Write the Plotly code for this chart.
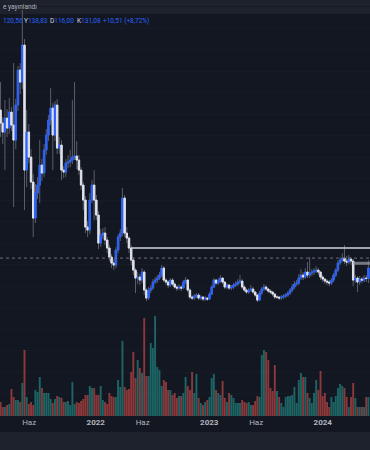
import pandas as pd
import plotly.graph_objects as go

# ---------------- data ----------------
week_start = "2021-03-01"          # first weekly bar
first_open = 289.0
last_open = 120.56

closes = [
    276, 267, 281, 271, 287, 274, 259, 294, 329, 317,
    354, 229, 267, 242, 217, 181, 206, 214, 234, 226,
    249, 264, 279, 291, 264, 294, 251, 254, 229, 227,
    236, 237, 239, 242, 243, 239, 229, 214, 199, 172,
    169, 199, 214, 199, 184, 156, 164, 166, 159, 151,
    142, 136, 134, 149, 162, 166, 201, 166, 161, 151,
    139, 129, 121, 122, 119, 127, 109, 101, 109, 111,
    117, 119, 121, 124, 131, 119, 117, 114, 119, 115,
    112, 111, 112, 111, 117, 119, 109, 102, 101, 103,
    104, 101, 102, 100, 101, 100, 105, 112, 119, 116,
    118, 121, 117, 112, 114, 111, 112, 114, 115, 117,
    118, 112, 109, 107, 109, 110, 107, 104, 99, 106,
    110, 112, 110, 108, 107, 105, 102, 102, 101, 102,
    103, 104, 106, 109, 112, 115, 116, 121, 124, 122,
    127, 124, 126, 127, 128, 129, 127, 122, 120, 118,
    117, 116, 119, 124, 129, 136, 139, 141, 138, 137,
    140, 138, 119, 121, 117, 120, 119, 121, 120.57, 131.08,
]

highs = [
    317, 282, 299, 290, 301, 292, 336, 300, 333, 336,
    389, 360, 289, 275, 250, 225, 215, 222, 259, 240,
    255, 270, 284, 311, 296, 298, 300, 262, 259, 233,
    240, 244, 249, 299, 317, 258, 244, 232, 217, 203,
    178, 206, 219, 229, 204, 188, 170, 171, 172, 162,
    154, 145, 140, 152, 165, 170, 211, 204, 172, 163,
    154, 142, 131, 127, 125, 131, 129, 111, 112, 114,
    120, 122, 124, 127, 134, 133, 121, 119, 121, 121,
    117, 114, 115, 114, 119, 122, 120, 111, 104, 105,
    106, 106, 104, 103, 103, 102, 107, 114, 121, 120,
    121, 124, 122, 118, 116, 115, 114, 116, 118, 120,
    124, 120, 114, 111, 111, 114, 112, 108, 105, 108,
    112, 115, 114, 111, 110, 108, 106, 104, 103, 104,
    105, 106, 108, 111, 115, 118, 119, 125, 130, 127,
    131, 137, 142, 130, 131, 133, 131, 128, 124, 121,
    120, 119, 121, 126, 131, 139, 142, 146, 154, 143,
    144, 142, 140, 124, 123, 123, 122, 124, 124, 138.83,
]

lows = [
    262, 255, 229, 262, 265, 268, 192, 250, 288, 305,
    310, 189, 212, 236, 210, 162, 176, 200, 196, 218,
    222, 244, 258, 274, 229, 258, 245, 245, 219, 221,
    222, 231, 232, 235, 239, 230, 224, 209, 189, 166,
    162, 165, 196, 179, 179, 150, 152, 160, 154, 146,
    138, 131, 129, 131, 146, 158, 163, 162, 156, 146,
    134, 124, 106, 115, 114, 116, 104, 98, 99, 106,
    109, 115, 116, 119, 122, 117, 114, 111, 112, 113,
    110, 108, 109, 108, 110, 115, 107, 100, 99, 99,
    101, 99, 99, 98, 98, 98, 99, 104, 111, 114,
    114, 116, 115, 110, 110, 109, 109, 110, 112, 113,
    115, 110, 107, 105, 105, 107, 105, 102, 97, 98,
    104, 108, 108, 106, 105, 103, 100, 100, 99, 99,
    100, 101, 102, 104, 107, 110, 113, 114, 119, 119,
    120, 121, 121, 123, 124, 126, 124, 119, 117, 115,
    114, 113, 114, 117, 122, 127, 134, 137, 135, 133,
    135, 134, 113, 116, 107, 114, 116, 117, 117, 116.00,
]

volumes = [  # millions of shares
    14, 9, 9, 11, 12, 27, 19, 16, 16, 14,
    33, 66, 19, 12, 14, 11, 26, 24, 39, 28,
    23, 23, 23, 17, 13, 17, 20, 19, 18, 14,
    14, 15, 11, 34, 12, 14, 13, 15, 17, 21,
    21, 30, 28, 28, 21, 21, 30, 16, 14, 12,
    23, 20, 19, 19, 36, 29, 75, 29, 26, 27,
    44, 64, 38, 56, 48, 43, 98, 40, 40, 73,
    68, 100, 49, 46, 30, 36, 34, 26, 26, 21,
    23, 18, 20, 20, 23, 39, 30, 26, 44, 23,
    42, 18, 13, 11, 14, 16, 19, 38, 42, 26,
    23, 21, 35, 18, 14, 23, 21, 18, 13, 13,
    13, 16, 14, 13, 14, 11, 11, 15, 20, 19,
    61, 66, 64, 56, 28, 25, 51, 25, 19, 13,
    9, 19, 20, 20, 21, 29, 13, 36, 43, 39,
    39, 23, 18, 13, 23, 36, 26, 45, 20, 23,
    14, 9, 19, 14, 20, 28, 32, 30, 28, 19,
    9, 19, 33, 18, 9, 9, 9, 9, 19, 19,
]

resistance_level = 151.08
resistance_start = "2022-04-25"
dotted_level = 141.0
box_low, box_high = 134.3, 137.3
box_start = "2024-04-08"

tick_dates = ["2021-06-01", "2022-01-01", "2022-06-01", "2023-01-01",
              "2023-06-01", "2024-01-01", "2024-06-01"]
tick_labels = ["Haz", "2022", "Haz", "2023", "Haz", "2024", "Haz"]
header_text = "e yayınlandı"
ohlc_letters = ["Y", "D", "K"]

# ---------------- derived ----------------
dates = pd.date_range(week_start, periods=len(closes), freq="7D")
opens = [first_open] + closes[:-1]
opens[-1] = last_open
body_hi = [max(o, c) for o, c in zip(opens, closes)]
body_lo = [min(o, c) for o, c in zip(opens, closes)]

W, H = 370, 450
PLOT_BOTTOM = 416
x_start, x_end = "2021-02-27 05:00", "2024-06-01 02:00"
price_top, price_bottom = 399.08, -16.92

UP = "#2962ff"
DOWN = "#e0e3eb"
WICK = "#5a5e6b"
BG = "#131722"
BAR = "#1e222d"
GRID = "#171b26"
FONT = "Roboto"


def py(ypx):
    return (PLOT_BOTTOM - ypx) / PLOT_BOTTOM


def px(xpx):
    return xpx / W


def fmt(v):
    return f"{v:.2f}".replace(".", ",")


fig = go.Figure()

vol_colors = ["rgba(38,166,154,0.55)" if c >= o else "rgba(239,83,80,0.55)"
              for o, c in zip(opens, closes)]
fig.add_trace(go.Bar(x=dates, y=volumes, marker=dict(color=vol_colors, line_width=0),
                     yaxis="y", hoverinfo="skip"))

fig.add_trace(go.Candlestick(
    x=dates, open=opens, high=highs, low=lows, close=closes, yaxis="y2",
    increasing=dict(line=dict(color=WICK, width=1), fillcolor=WICK),
    decreasing=dict(line=dict(color=WICK, width=1), fillcolor=WICK),
    whiskerwidth=0, hoverinfo="skip"))

fig.add_trace(go.Candlestick(
    x=dates, open=opens, high=body_hi, low=body_lo, close=closes, yaxis="y2",
    increasing=dict(line=dict(color=UP, width=1), fillcolor=UP),
    decreasing=dict(line=dict(color=DOWN, width=1), fillcolor=DOWN),
    whiskerwidth=0, hoverinfo="skip"))

shapes = [
    dict(type="rect", xref="paper", yref="paper", x0=0, x1=1, y0=py(14), y1=1,
         fillcolor=BAR, line_width=0, layer="below"),
    dict(type="rect", xref="paper", yref="paper", x0=0, x1=1, y0=py(450), y1=py(432),
         fillcolor=BAR, line_width=0, layer="above"),
    dict(type="line", xref="x", yref="y2", x0=resistance_start, x1=x_end,
         y0=resistance_level, y1=resistance_level, line=dict(color="#d1d4dc", width=1.5)),
    dict(type="line", xref="paper", yref="y2", x0=0, x1=1,
         y0=dotted_level, y1=dotted_level, line=dict(color="#6b6f7b", width=1, dash="dot")),
    dict(type="rect", xref="x", yref="y2", x0=box_start, x1=x_end,
         y0=box_low, y1=box_high, fillcolor="rgba(150,153,161,0.75)", line_width=0),
]

last_o, last_h, last_l, last_c = opens[-1], highs[-1], lows[-1], closes[-1]
prev_c = closes[-2]
chg = last_c - prev_c
pct = chg / prev_c * 100


def item(letter, val):
    return f"<span style='color:#d1d4dc'>{letter}</span><span style='color:{UP}'>{fmt(val)}</span>"


ann_font = dict(family=FONT, size=6.5, color="#d1d4dc")
annotations = [
    dict(text=header_text, x=px(0.5), y=py(7), xref="paper", yref="paper",
         xanchor="left", yanchor="middle", showarrow=False,
         font=dict(family=FONT, size=6.5, color="#b2b5be")),
    dict(text=f"<span style='color:{UP}'>{fmt(last_o)}</span>", x=px(0.5), xanchor="left"),
    dict(text=item(ohlc_letters[0], last_h), x=px(21.5), xanchor="left"),
    dict(text=item(ohlc_letters[1], last_l), x=px(47.5), xanchor="left"),
    dict(text=item(ohlc_letters[2], last_c), x=px(74.5), xanchor="left"),
    dict(text=f"<span style='color:{UP}'>+{fmt(chg)} (+{fmt(pct)}%)</span>", x=px(101.5), xanchor="left"),
]
for a in annotations[1:]:
    a.update(y=py(21.5), xref="paper", yref="paper", yanchor="middle",
             showarrow=False, font=ann_font)

fig.update_layout(
    width=W, height=H,
    margin=dict(l=0, r=0, t=0, b=H - PLOT_BOTTOM, pad=0),
    paper_bgcolor=BG, plot_bgcolor=BG,
    showlegend=False,
    boxgap=0.35, boxgroupgap=0, bargap=0.12,
    shapes=shapes, annotations=annotations,
    xaxis=dict(type="date", range=[x_start, x_end], rangeslider=dict(visible=False),
               showgrid=False, zeroline=False, showline=False, ticks="",
               tickvals=tick_dates,
               ticktext=[f"<b>{t}</b>" if t.isdigit() else t for t in tick_labels],
               tickfont=dict(family=FONT, size=8, color="#b2b5be"),
               fixedrange=True),
    yaxis=dict(range=[0, PLOT_BOTTOM], visible=False, fixedrange=True),
    yaxis2=dict(overlaying="y", range=[price_bottom, price_top], showticklabels=False,
                ticks="", showgrid=True, gridcolor=GRID, gridwidth=1,
                tick0=371.08, dtick=21.5, zeroline=False, showline=False, fixedrange=True),
)

fig.write_html("out.html")
